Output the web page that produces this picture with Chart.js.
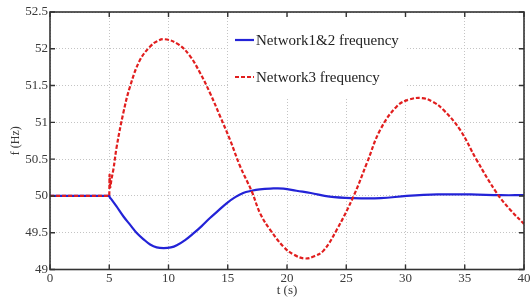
<!DOCTYPE html>
<html>
<head>
<meta charset="utf-8">
<script src="https://cdn.jsdelivr.net/npm/chart.js@4.4.1/dist/chart.umd.min.js"></script>
<style>
  html, body { margin: 0; padding: 0; background: #fff; }
  #wrap { width: 532px; height: 300px; position: relative; }
</style>
</head>
<body>
<div id="wrap"><canvas id="c"></canvas></div>
<script>
// ---- data ----
const xTickMin = 0, xTickMax = 40, xStep = 5;
const yTickMin = 49, yTickMax = 52.5, yStep = 0.5;
const seriesLabels = ["Network1&2 frequency", "Network3 frequency"];

const tBlue = [0, 4.95, 5.0, 5.05, 5.2, 5.6, 6.2, 6.8, 7.3, 7.9, 8.45, 9.0, 9.6, 10.2, 10.7, 11.4, 12.1, 12.8, 13.5, 14.2, 14.9, 15.6, 16.3, 17.0, 17.7, 18.6, 19.7, 20.8, 22.0, 23.6, 25.6, 27.9, 30.1, 32.7, 35.5, 38, 40];
const fBlue = [50, 50, 50.0, 49.98, 49.95, 49.86, 49.72, 49.6, 49.5, 49.41, 49.34, 49.3, 49.29, 49.3, 49.33, 49.4, 49.49, 49.59, 49.7, 49.8, 49.9, 49.98, 50.04, 50.07, 50.09, 50.1, 50.1, 50.07, 50.04, 49.99, 49.97, 49.97, 50.0, 50.02, 50.02, 50.01, 50.01];

const tRed = [0, 4.97, 5.0, 5.03, 5.08, 5.2, 5.35, 5.63, 6.19, 6.76, 7.6, 8.45, 9.0, 9.7, 10.84, 11.82, 12.67, 13.5, 14.36, 15.2, 16.05, 17.03, 17.74, 18.58, 19.7, 20.6, 21.5, 22.3, 23.1, 24.2, 25.6, 26.75, 27.87, 29.28, 30.3, 31.4, 32.3, 33.2, 34.6, 36.0, 37.7, 38.85, 40];
const fRed = [50, 50, 50.0, 50.29, 50.12, 50.24, 50.36, 50.67, 51.13, 51.49, 51.85, 52.03, 52.1, 52.13, 52.06, 51.9, 51.67, 51.4, 51.08, 50.76, 50.4, 50.06, 49.76, 49.54, 49.31, 49.2, 49.15, 49.18, 49.26, 49.54, 49.99, 50.45, 50.9, 51.22, 51.31, 51.33, 51.28, 51.17, 50.9, 50.49, 50.04, 49.81, 49.62];

const xTitle = "t (s)";
const yTitle = "f (Hz)";

// ---- styles ----
const BLUE = "rgb(35,35,215)";
const RED = "rgb(225,30,30)";
const FONT = "'Liberation Serif', 'Times New Roman', serif";
const TXT = "#3a3a3a";

const toPts = (xs, ys) => xs.map((x, i) => ({ x: x, y: ys[i] }));

const framePlugin = {
  id: 'frame',
  beforeDatasetsDraw(chart, args, opts) {
    const ctx = chart.ctx;
    ctx.save();
    ctx.fillStyle = '#fff';
    ctx.fillRect(opts.box.x, opts.box.y, opts.box.w, opts.box.h);
    ctx.restore();
  },
  afterDatasetsDraw(chart, args, opts) {
    const ctx = chart.ctx;
    const a = chart.chartArea;
    const xs = chart.scales.x, ys = chart.scales.y;
    ctx.save();
    ctx.strokeStyle = '#333';
    ctx.lineWidth = 1.6;
    ctx.strokeRect(a.left, a.top, a.right - a.left, a.bottom - a.top);
    const L = 5;
    ctx.lineWidth = 1.4;
    ctx.beginPath();
    xs.ticks.forEach(t => {
      const px = xs.getPixelForValue(t.value);
      ctx.moveTo(px, a.bottom); ctx.lineTo(px, a.bottom - L);
      ctx.moveTo(px, a.top); ctx.lineTo(px, a.top + L);
    });
    ys.ticks.forEach(t => {
      const py = ys.getPixelForValue(t.value);
      ctx.moveTo(a.left, py); ctx.lineTo(a.left + L, py);
      ctx.moveTo(a.right, py); ctx.lineTo(a.right - L, py);
    });
    ctx.stroke();
    ctx.font = "15px " + FONT;
    ctx.textBaseline = 'middle';
    ctx.textAlign = 'left';
    chart.data.datasets.slice().sort((p, q) => p.legendIndex - q.legendIndex).forEach((ds, i) => {
      const y = opts.legend.y0 + i * opts.legend.dy;
      ctx.strokeStyle = ds.borderColor;
      ctx.lineWidth = ds.borderWidth;
      ctx.setLineDash(ds.borderDash || []);
      ctx.beginPath();
      ctx.moveTo(opts.legend.x0, y);
      ctx.lineTo(opts.legend.x0 + opts.legend.len, y);
      ctx.stroke();
      ctx.setLineDash([]);
      ctx.fillStyle = '#222';
      ctx.fillText(ds.label, opts.legend.x0 + opts.legend.len + 2, y + 1);
    });
    ctx.restore();
  }
};

new Chart(document.getElementById('c'), {
  type: 'line',
  data: {
    datasets: [
      {
        label: seriesLabels[1],
        legendIndex: 1,
        data: toPts(tRed, fRed),
        borderColor: RED,
        borderWidth: 2.2,
        borderDash: [4, 2],
        pointRadius: 0,
        tension: 0.4,
        fill: false,
        order: 0
      },
      {
        label: seriesLabels[0],
        legendIndex: 0,
        data: toPts(tBlue, fBlue),
        borderColor: BLUE,
        borderWidth: 2.2,
        pointRadius: 0,
        tension: 0.4,
        fill: false,
        order: 1
      }
    ]
  },
  options: {
    responsive: true,
    maintainAspectRatio: false,
    animation: false,
    layout: { padding: { top: 12, right: 8, left: 0, bottom: 0 } },
    plugins: {
      legend: { display: false },
      tooltip: { enabled: false },
      frame: {
        box: { x: 230, y: 16, w: 176, h: 81 },
        legend: { x0: 235, y0: 40, dy: 37, len: 19 }
      }
    },
    scales: {
      x: {
        type: 'linear',
        min: xTickMin, max: xTickMax,
        ticks: { stepSize: xStep, color: TXT, font: { family: FONT, size: 13 }, padding: 1, maxRotation: 0,
                 callback: v => String(v) },
        grid: { color: '#c4c4c4', lineWidth: 1, drawTicks: false },
        border: { display: false, dash: [1, 2] },
        title: { display: true, text: xTitle, color: TXT, font: { family: FONT, size: 13 }, padding: { top: 0, bottom: 2 } },
        afterFit(s) { s.height = 30.5; }
      },
      y: {
        type: 'linear',
        min: yTickMin, max: yTickMax,
        ticks: { stepSize: yStep, color: TXT, font: { family: FONT, size: 13 }, padding: 2,
                 callback: v => String(Math.round(v * 10) / 10) },
        grid: { color: '#c4c4c4', lineWidth: 1, drawTicks: false },
        border: { display: false, dash: [1, 2] },
        title: { display: true, text: yTitle, color: TXT, font: { family: FONT, size: 12 }, padding: { top: 9, bottom: 0 } },
        afterFit(s) { s.width = 50; }
      }
    }
  },
  plugins: [framePlugin]
});
</script>
</body>
</html>
